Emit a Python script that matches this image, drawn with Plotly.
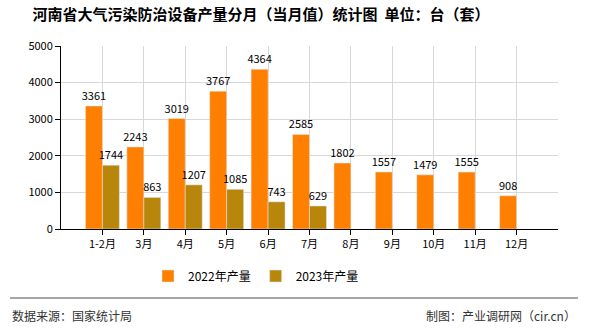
import plotly.graph_objects as go

categories = ["1-2月", "3月", "4月", "5月", "6月", "7月", "8月", "9月", "10月", "11月", "12月"]
values_2022 = [3361, 2243, 3019, 3767, 4364, 2585, 1802, 1557, 1479, 1555, 908]
values_2023 = [1744, 863, 1207, 1085, 743, 629]
name_2022 = "2022年产量"
name_2023 = "2023年产量"
title_text = "<b>河南省大气污染防治设备产量分月（当月值）统计图  单位：台（套）</b>"
y_ticks = [0, 1000, 2000, 3000, 4000, 5000]

FONT = "Noto Sans CJK SC"
x_idx = list(range(len(categories)))

fig = go.Figure()
fig.add_trace(go.Bar(
    x=x_idx, y=values_2022, name=name_2022, marker_color="#FF8000",
    width=0.41, offset=-0.41,
    text=[str(v) for v in values_2022], textposition="outside", constraintext="none",
    textfont=dict(size=11, color="#000000", family=FONT), cliponaxis=False,
))
fig.add_trace(go.Bar(
    x=x_idx[:len(values_2023)], y=values_2023, name=name_2023, marker_color="#B8860B",
    width=0.41, offset=0,
    text=[str(v) for v in values_2023], textposition="outside", constraintext="none",
    textfont=dict(size=11, color="#000000", family=FONT), cliponaxis=False,
))

fig.update_layout(
    width=590, height=330,
    margin=dict(l=61, r=32, t=46, b=101),
    paper_bgcolor="white", plot_bgcolor="white",
    font=dict(family=FONT, size=11, color="#000000"),
    barmode="overlay",
    title=dict(text=title_text, x=261 / 590, xanchor="center", y=0.955, yanchor="middle",
               xref="container",
               font=dict(size=15, family=FONT, color="#000000")),
    legend=dict(orientation="h", x=(256 - 61) / 497, xanchor="center", y=-0.257, yanchor="middle",
                font=dict(size=12, family=FONT), traceorder="normal"),
    xaxis=dict(
        range=[-1, 11], tickmode="array", tickvals=x_idx, ticktext=categories,
        showgrid=True, gridcolor="#D8D8D8", gridwidth=1,
        showline=True, linecolor="#000000", linewidth=1,
        ticks="outside", ticklen=5, tickcolor="#000000",
        tickfont=dict(size=11), zeroline=False,
    ),
    yaxis=dict(
        range=[0, 5000], tickvals=y_ticks,
        showgrid=True, gridcolor="#D8D8D8", gridwidth=1,
        showline=True, linecolor="#000000", linewidth=1,
        ticks="outside", ticklen=5, tickcolor="#000000",
        tickfont=dict(size=11), zeroline=False,
    ),
    shapes=[dict(type="line", xref="paper", yref="paper",
                 x0=(10 - 61) / 497, x1=(578 - 61) / 497,
                 y0=(229 - 298) / 183, y1=(229 - 298) / 183,
                 line=dict(color="#888888", width=1.5))],
    annotations=[
        dict(text="数据来源：国家统计局", xref="paper", yref="paper",
             x=(10 - 61) / 497, y=(229 - 315) / 183, xanchor="left", yanchor="middle",
             showarrow=False, font=dict(size=12, color="#333333", family=FONT)),
        dict(text="制图：产业调研网（cir.cn）", xref="paper", yref="paper",
             x=(578 - 61) / 497, y=(229 - 315) / 183, xanchor="right", yanchor="middle",
             showarrow=False, font=dict(size=12, color="#333333", family=FONT)),
    ],
)

fig.write_html("out.html")
